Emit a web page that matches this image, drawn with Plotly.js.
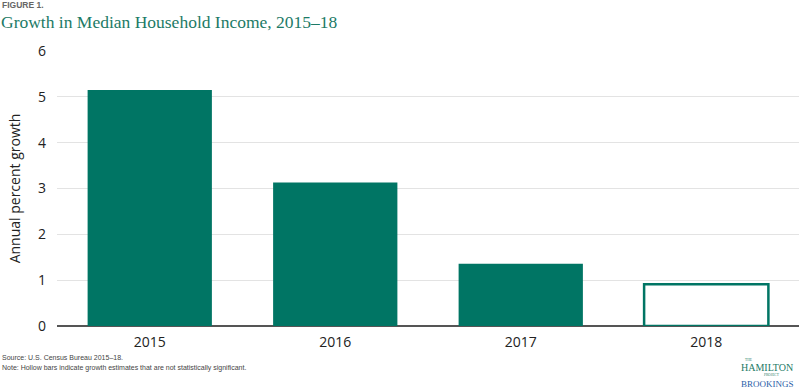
<!DOCTYPE html>
<html>
<head>
<meta charset="utf-8">
<script src="https://cdn.plot.ly/plotly-3.0.1.min.js"></script>
<style>html,body{margin:0;padding:0;background:#fff;}#chart{width:800px;height:389px;}</style>
</head>
<body>
<div id="chart"></div>
<script>
const years = ["2015", "2016", "2017", "2018"];
const growth = [5.15, 3.13, 1.36, 0.91];
const significant = [true, true, true, false];
const yTicks = [0, 1, 2, 3, 4, 5, 6];

const teal = "#007564";
const fillColors = significant.map(s => s ? teal : "#ffffff");

const trace = {
  type: "bar",
  x: years,
  y: growth,
  marker: { color: fillColors, line: { color: teal, width: significant.map(s => s ? 0 : 2.5) } },
  hoverinfo: "x+y"
};

function note(text, xs, ys, font, anchor) {
  return { text: text, xref: "paper", yref: "paper", x: anchor === "right" ? 1 : (anchor === "lb" ? 0 : 1), y: anchor === "top" ? 1 : 0,
    xanchor: "left", yanchor: "middle", xshift: xs, yshift: ys, showarrow: false, font: font };
}

const layout = {
  width: 800, height: 389,
  margin: { l: 57, r: 1, t: 51, b: 63 },
  paper_bgcolor: "#fff", plot_bgcolor: "#fff",
  bargap: 0.33,
  showlegend: false,
  font: { family: "Open Sans, sans-serif", color: "#222" },
  xaxis: {
    type: "category",
    showgrid: false, zeroline: false, showline: false,
    ticks: "", tickfont: { size: 14, color: "#222" },
    ticklabelstandoff: 6
  },
  yaxis: {
    range: [0, 6], tickvals: yTicks, ticktext: yTicks.map(String),
    showgrid: true, gridcolor: "#e3e3e3", gridwidth: 1,
    zeroline: true, zerolinecolor: "#555", zerolinewidth: 1.5,
    showline: false, ticks: "",
    tickfont: { size: 14, color: "#222" },
    ticklabelstandoff: 10,
    title: { text: "Annual percent growth", font: { size: 14, color: "#222" }, standoff: 14 }
  },
  annotations: [
    { text: "<b>FIGURE 1.</b>", xref: "paper", yref: "paper", x: 0, y: 1, xanchor: "left", yanchor: "middle",
      xshift: -57, yshift: 46, showarrow: false,
      font: { family: "Liberation Sans, Arial, sans-serif", size: 8.5, color: "#666" } },
    { text: "Growth in Median Household Income, 2015\u201318", xref: "paper", yref: "paper", x: 0, y: 1,
      xanchor: "left", yanchor: "middle", xshift: -58, yshift: 29, showarrow: false,
      font: { family: "Liberation Serif, Times New Roman, serif", size: 17.5, color: "#1c7a66" } },
    { text: "Source: U.S. Census Bureau 2015\u201318.",
      xref: "paper", yref: "paper", x: 0, y: 0, xanchor: "left", yanchor: "middle", align: "left",
      xshift: -57, yshift: -31, showarrow: false,
      font: { family: "Liberation Sans, Arial, sans-serif", size: 7, color: "#444" } },
    { text: "Note: Hollow bars indicate growth estimates that are not statistically significant.",
      xref: "paper", yref: "paper", x: 0, y: 0, xanchor: "left", yanchor: "middle", align: "left",
      xshift: -57, yshift: -42, showarrow: false,
      font: { family: "Liberation Sans, Arial, sans-serif", size: 7, color: "#444" } },
    { text: "THE", xref: "paper", yref: "paper", x: 1, y: 0, xanchor: "center", yanchor: "middle",
      xshift: -51, yshift: -34, showarrow: false,
      font: { family: "Liberation Serif, serif", size: 3.5, color: "#1c7a66" } },
    { text: "HAMILTON", xref: "paper", yref: "paper", x: 1, y: 0, xanchor: "center", yanchor: "middle",
      xshift: -32, yshift: -41, showarrow: false,
      font: { family: "Liberation Serif, serif", size: 10, color: "#1c7a66" } },
    { text: "PROJECT", xref: "paper", yref: "paper", x: 1, y: 0, xanchor: "center", yanchor: "middle",
      xshift: -27, yshift: -48.5, showarrow: false,
      font: { family: "Liberation Serif, serif", size: 3.5, color: "#1c7a66" } },
    { text: "BROOKINGS", xref: "paper", yref: "paper", x: 1, y: 0, xanchor: "center", yanchor: "middle",
      xshift: -32, yshift: -58, showarrow: false,
      font: { family: "Liberation Serif, serif", size: 9, color: "#2a5ea8" } }
  ]
};

Plotly.newPlot("chart", [trace], layout, { displayModeBar: false, staticPlot: true });
</script>
</body>
</html>
